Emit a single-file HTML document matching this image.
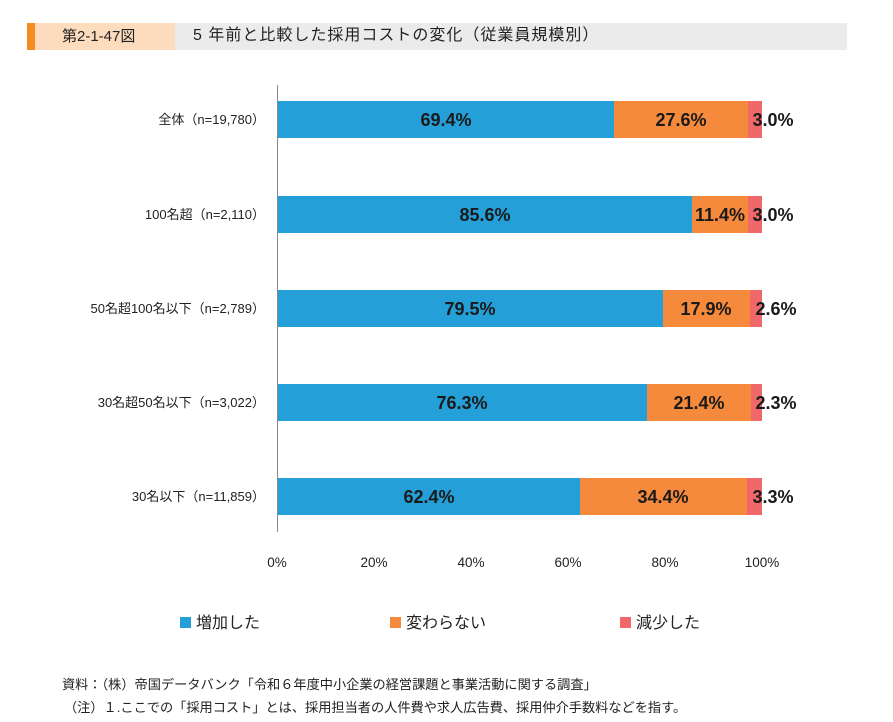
<!DOCTYPE html>
<html><head><meta charset="utf-8"><style>
body{margin:0;background:#fff;font-family:"Liberation Sans","Noto Sans CJK JP",sans-serif;}
.wrap{position:relative;width:893px;height:722px;overflow:hidden;}
.a{position:absolute;white-space:nowrap;}
</style></head><body><div class="wrap">
<div class="a" style="left:27px;top:23px;width:8px;height:27px;background:#f68b1f"></div>
<div class="a" style="left:35px;top:23px;width:140px;height:27px;background:#fddcbd"></div>
<div class="a" style="left:175px;top:23px;width:672px;height:27px;background:#ebebeb"></div>
<div class="a" style="left:62px;top:27px;font-size:15px;line-height:19px;color:#222">第2-1-47図</div>
<div class="a" style="left:193px;top:26px;font-size:16px;line-height:20px;color:#222;letter-spacing:1px">5 年前と比較した採用コストの変化（従業員規模別）</div>
<svg class="a" style="left:0;top:0" width="893" height="722">
<line x1="277.5" y1="85" x2="277.5" y2="532" stroke="#888" stroke-width="1"/>
<g font-family="Liberation Sans,Noto Sans CJK JP,sans-serif" font-size="13" fill="#222" text-anchor="end">
<text x="265" y="124">全体（n=19,780）</text>
<text x="265" y="219">100名超（n=2,110）</text>
<text x="265" y="313">50名超100名以下（n=2,789）</text>
<text x="265" y="407">30名超50名以下（n=3,022）</text>
<text x="265" y="501">30名以下（n=11,859）</text>
</g>
<g font-family="Liberation Sans,Noto Sans CJK JP,sans-serif" font-size="13.5" fill="#222" text-anchor="middle">
<text x="277" y="567">0%</text><text x="374" y="567">20%</text><text x="471" y="567">40%</text><text x="568" y="567">60%</text><text x="665" y="567">80%</text><text x="762" y="567">100%</text>
</g>
<g font-family="Liberation Sans,sans-serif" font-size="18" font-weight="bold" fill="#1a1a1a" text-anchor="middle">
<rect x="278" y="101" width="336" height="37" fill="#259fd8"/><rect x="614" y="101" width="134" height="37" fill="#f68a3c"/><rect x="748" y="101" width="14" height="37" fill="#f0686a"/>
<text x="446" y="126">69.4%</text><text x="681" y="126">27.6%</text><text x="773" y="126">3.0%</text>
<rect x="278" y="196" width="414" height="37" fill="#259fd8"/><rect x="692" y="196" width="56" height="37" fill="#f68a3c"/><rect x="748" y="196" width="14" height="37" fill="#f0686a"/>
<text x="485" y="221">85.6%</text><text x="720" y="221">11.4%</text><text x="773" y="221">3.0%</text>
<rect x="278" y="290" width="385" height="37" fill="#259fd8"/><rect x="663" y="290" width="87" height="37" fill="#f68a3c"/><rect x="750" y="290" width="12" height="37" fill="#f0686a"/>
<text x="470" y="315">79.5%</text><text x="706" y="315">17.9%</text><text x="776" y="315">2.6%</text>
<rect x="278" y="384" width="369" height="37" fill="#259fd8"/><rect x="647" y="384" width="104" height="37" fill="#f68a3c"/><rect x="751" y="384" width="11" height="37" fill="#f0686a"/>
<text x="462" y="409">76.3%</text><text x="699" y="409">21.4%</text><text x="776" y="409">2.3%</text>
<rect x="278" y="478" width="302" height="37" fill="#259fd8"/><rect x="580" y="478" width="167" height="37" fill="#f68a3c"/><rect x="747" y="478" width="15" height="37" fill="#f0686a"/>
<text x="429" y="503">62.4%</text><text x="663" y="503">34.4%</text><text x="773" y="503">3.3%</text>
</g>
<rect x="180" y="617" width="11" height="11" fill="#259fd8"/>
<rect x="390" y="617" width="11" height="11" fill="#f68a3c"/>
<rect x="620" y="617" width="11" height="11" fill="#f0686a"/>
<g font-family="Liberation Sans,Noto Sans CJK JP,sans-serif" font-size="16" fill="#222">
<text x="196" y="628">増加した</text><text x="406" y="628">変わらない</text><text x="636" y="628">減少した</text>
</g>
<g font-family="Liberation Sans,Noto Sans CJK JP,sans-serif" font-size="13.2" fill="#222">
<text x="62" y="689">資料：（株）帝国データバンク「令和６年度中小企業の経営課題と事業活動に関する調査」</text>
<text x="64" y="712">（注）１.ここでの「採用コスト」とは、採用担当者の人件費や求人広告費、採用仲介手数料などを指す。</text>
</g>
</svg>
</div></body></html>
